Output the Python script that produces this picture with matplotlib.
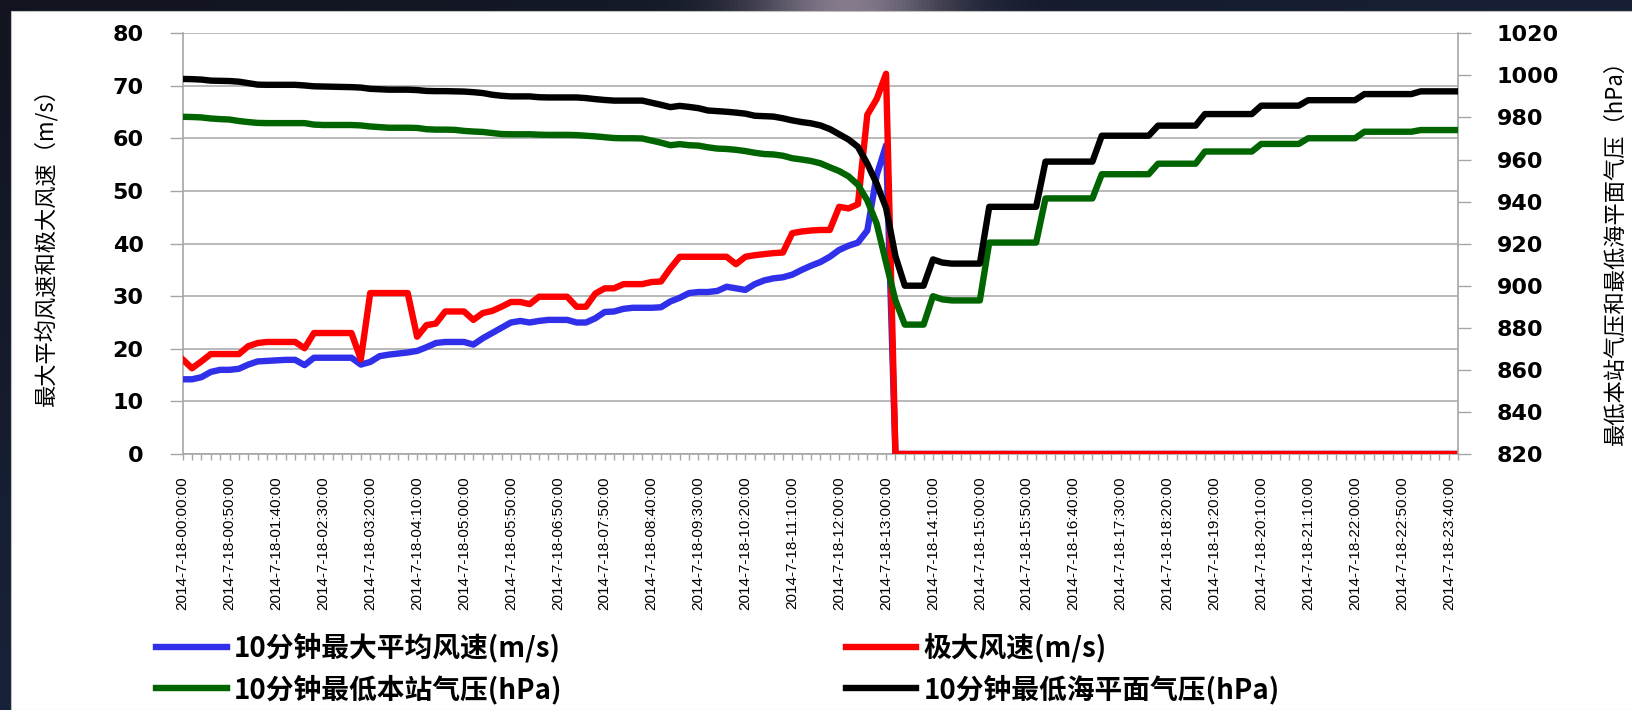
import numpy as np
import matplotlib
matplotlib.use("Agg")
import matplotlib.pyplot as plt
from matplotlib.patches import Rectangle
from matplotlib.font_manager import FontProperties

OUT_PATH = "out.png"
CJK = ["Noto Sans CJK SC", "DejaVu Sans"]

# tick labels shown under every 5th record (10-minute records, some missing)
TIME_LABELS = [
    "2014-7-18-00:00:00", "2014-7-18-00:50:00", "2014-7-18-01:40:00", "2014-7-18-02:30:00",
    "2014-7-18-03:20:00", "2014-7-18-04:10:00", "2014-7-18-05:00:00", "2014-7-18-05:50:00",
    "2014-7-18-06:50:00", "2014-7-18-07:50:00", "2014-7-18-08:40:00", "2014-7-18-09:30:00",
    "2014-7-18-10:20:00", "2014-7-18-11:10:00", "2014-7-18-12:00:00", "2014-7-18-13:00:00",
    "2014-7-18-14:10:00", "2014-7-18-15:00:00", "2014-7-18-15:50:00", "2014-7-18-16:40:00",
    "2014-7-18-17:30:00", "2014-7-18-18:20:00", "2014-7-18-19:20:00", "2014-7-18-20:10:00",
    "2014-7-18-21:10:00", "2014-7-18-22:00:00", "2014-7-18-22:50:00", "2014-7-18-23:40:00",
]

WIND_TICKS = [0, 10, 20, 30, 40, 50, 60, 70, 80]
PRESSURE_TICKS = [820, 840, 860, 880, 900, 920, 940, 960, 980, 1000, 1020]

# 10分钟最大平均风速 (m/s)
wind_mean = [
    14.2, 14.2, 14.6, 15.6, 16.0, 16.0, 16.2, 17.0, 17.6, 17.7,
    17.8, 17.9, 17.9, 16.9, 18.3, 18.3, 18.3, 18.3, 18.3, 17.0,
    17.5, 18.6, 18.9, 19.1, 19.3, 19.6, 20.3, 21.1, 21.3, 21.3,
    21.3, 20.8, 22.0, 23.0, 24.0, 25.0, 25.3, 25.0, 25.3, 25.5,
    25.5, 25.5, 25.0, 25.0, 25.8, 27.0, 27.1, 27.6, 27.8, 27.8,
    27.8, 27.9, 29.0, 29.7, 30.6, 30.8, 30.8, 31.0, 31.8, 31.5,
    31.2, 32.3, 33.0, 33.4, 33.6, 34.1, 35.0, 35.8, 36.5, 37.5,
    38.8, 39.6, 40.2, 42.5, 53.0, 58.7, 0.0, 0.0, 0.0, 0.0,
    0.0, 0.0, 0.0, 0.0, 0.0, 0.0, 0.0, 0.0, 0.0, 0.0,
    0.0, 0.0, 0.0, 0.0, 0.0, 0.0, 0.0, 0.0, 0.0, 0.0,
    0.0, 0.0, 0.0, 0.0, 0.0, 0.0, 0.0, 0.0, 0.0, 0.0,
    0.0, 0.0, 0.0, 0.0, 0.0, 0.0, 0.0, 0.0, 0.0, 0.0,
    0.0, 0.0, 0.0, 0.0, 0.0, 0.0, 0.0, 0.0, 0.0, 0.0,
    0.0, 0.0, 0.0, 0.0, 0.0, 0.0, 0.0,
]

# 极大风速 (m/s)
wind_gust = [
    18.0, 16.3, 17.6, 19.0, 19.0, 19.0, 19.0, 20.5, 21.1, 21.3,
    21.3, 21.3, 21.3, 20.1, 23.0, 23.0, 23.0, 23.0, 23.0, 18.0,
    30.6, 30.6, 30.6, 30.6, 30.6, 22.3, 24.5, 24.8, 27.1, 27.1,
    27.1, 25.5, 26.8, 27.2, 28.0, 28.9, 28.9, 28.5, 29.9, 29.9,
    29.9, 29.9, 28.0, 28.0, 30.5, 31.5, 31.5, 32.3, 32.3, 32.3,
    32.7, 32.8, 35.3, 37.5, 37.5, 37.5, 37.5, 37.5, 37.5, 36.1,
    37.5, 37.8, 38.0, 38.2, 38.3, 42.0, 42.3, 42.5, 42.6, 42.6,
    47.0, 46.7, 47.5, 64.5, 67.5, 72.3, 0.0, 0.0, 0.0, 0.0,
    0.0, 0.0, 0.0, 0.0, 0.0, 0.0, 0.0, 0.0, 0.0, 0.0,
    0.0, 0.0, 0.0, 0.0, 0.0, 0.0, 0.0, 0.0, 0.0, 0.0,
    0.0, 0.0, 0.0, 0.0, 0.0, 0.0, 0.0, 0.0, 0.0, 0.0,
    0.0, 0.0, 0.0, 0.0, 0.0, 0.0, 0.0, 0.0, 0.0, 0.0,
    0.0, 0.0, 0.0, 0.0, 0.0, 0.0, 0.0, 0.0, 0.0, 0.0,
    0.0, 0.0, 0.0, 0.0, 0.0, 0.0, 0.0,
]

# 10分钟最低本站气压 (hPa)
pres_station = [
    980.3, 980.2, 980.0, 979.5, 979.2, 979.0, 978.3, 977.8, 977.4, 977.3,
    977.3, 977.3, 977.3, 977.3, 976.6, 976.4, 976.4, 976.4, 976.4, 976.2,
    975.7, 975.4, 975.1, 975.1, 975.1, 975.0, 974.4, 974.2, 974.2, 974.1,
    973.6, 973.3, 973.1, 972.6, 972.1, 972.0, 972.0, 972.0, 971.8, 971.7,
    971.7, 971.7, 971.6, 971.3, 971.0, 970.6, 970.2, 970.1, 970.1, 970.0,
    969.0, 968.0, 966.8, 967.3, 966.8, 966.6, 965.8, 965.2, 965.0, 964.6,
    964.0, 963.2, 962.6, 962.4, 961.8, 960.6, 960.0, 959.3, 958.2, 956.3,
    954.5, 952.0, 948.0, 940.5, 929.5, 911.0, 893.0, 881.5, 881.5, 881.5,
    895.0, 893.5, 893.0, 893.0, 893.0, 893.0, 920.5, 920.5, 920.5, 920.5,
    920.5, 920.5, 941.5, 941.5, 941.5, 941.5, 941.5, 941.5, 953.0, 953.0,
    953.0, 953.0, 953.0, 953.0, 958.0, 958.0, 958.0, 958.0, 958.0, 963.8,
    963.8, 963.8, 963.8, 963.8, 963.8, 967.4, 967.4, 967.4, 967.4, 967.4,
    970.1, 970.1, 970.1, 970.1, 970.1, 970.1, 973.2, 973.2, 973.2, 973.2,
    973.2, 973.2, 974.0, 974.0, 974.0, 974.0, 974.0,
]

# 10分钟最低海平面气压 (hPa)
pres_sea = [
    998.3, 998.2, 998.0, 997.5, 997.4, 997.3, 997.0, 996.3, 995.6, 995.5,
    995.5, 995.5, 995.5, 995.2, 994.8, 994.7, 994.6, 994.5, 994.4, 994.2,
    993.6, 993.4, 993.2, 993.2, 993.2, 993.0, 992.6, 992.5, 992.5, 992.4,
    992.3, 992.0, 991.6, 990.8, 990.3, 990.0, 990.0, 990.0, 989.6, 989.5,
    989.5, 989.5, 989.5, 989.2, 988.7, 988.3, 988.0, 988.0, 988.0, 988.0,
    987.0, 986.0, 984.9, 985.5, 985.0, 984.4, 983.3, 983.0, 982.7, 982.3,
    981.8, 980.8, 980.6, 980.4, 979.6, 978.6, 977.8, 977.2, 976.2, 974.5,
    972.0, 969.5, 966.0, 958.0, 948.5, 937.0, 914.0, 900.0, 900.0, 900.0,
    912.5, 911.0, 910.5, 910.5, 910.5, 910.5, 937.5, 937.5, 937.5, 937.5,
    937.5, 937.5, 959.0, 959.0, 959.0, 959.0, 959.0, 959.0, 971.3, 971.3,
    971.3, 971.3, 971.3, 971.3, 976.1, 976.1, 976.1, 976.1, 976.1, 981.6,
    981.6, 981.6, 981.6, 981.6, 981.6, 985.6, 985.6, 985.6, 985.6, 985.6,
    988.2, 988.2, 988.2, 988.2, 988.2, 988.2, 991.1, 991.1, 991.1, 991.1,
    991.1, 991.1, 992.4, 992.4, 992.4, 992.4, 992.4,
]

GRID_GRAY = "#a6a6a6"
LINE_W = 4.6


def draw_backdrop(fig):
    # dark slide background with a white content panel on top
    bg = fig.add_axes([0, 0, 1, 1], zorder=-10)
    bg.set_axis_off()
    xs = np.linspace(0, 1, 400)[None, :, None]
    ys = np.linspace(0, 1, 180)[:, None, None]
    dark = np.array([0.07, 0.08, 0.12])
    navy = np.array([0.11, 0.17, 0.30])
    glow = np.array([0.52, 0.48, 0.55])
    img = dark + (navy - dark) * np.clip(0.6 * ys + 0.5 * xs, 0, 1)
    spot = np.exp(-((xs - 0.52) / 0.06) ** 2)
    img = img + (glow - img) * spot
    bg.imshow(np.clip(img, 0, 1), extent=(0, 1, 0, 1), aspect="auto")
    bg.set_xlim(0, 1)
    bg.set_ylim(0, 1)
    bg.add_patch(Rectangle((11 / 1632, 0), 1, (710 - 11) / 710,
                           transform=bg.transAxes, facecolor="white",
                           edgecolor="#c0c0c0", lw=0.8))


def main():
    fig = plt.figure(figsize=(16.32, 7.10), dpi=100)
    draw_backdrop(fig)

    ax = fig.add_axes([0.1119, 0.3606, 0.7816, 0.5925])
    ax2 = ax.twinx()
    x = np.arange(len(wind_mean))

    l_mean, = ax.plot(x, wind_mean, color="#3030ea", lw=LINE_W,
                      solid_joinstyle="round", zorder=3)
    l_gust, = ax.plot(x, wind_gust, color="#ff0000", lw=LINE_W,
                      solid_joinstyle="round", zorder=4)
    l_stat, = ax2.plot(x, pres_station, color="#006400", lw=LINE_W,
                       solid_joinstyle="round", zorder=3)
    l_sea, = ax2.plot(x, pres_sea, color="#000000", lw=LINE_W,
                      solid_joinstyle="round", zorder=4)

    # --- left axis: wind ---
    ax.set_xlim(0, len(x) - 1)
    ax.set_ylim(WIND_TICKS[0], WIND_TICKS[-1])
    ax.set_yticks(WIND_TICKS, labels=[str(v) for v in WIND_TICKS],
                  fontsize=16, fontweight="bold", family="DejaVu Sans")
    ax.yaxis.grid(True, color=GRID_GRAY, lw=1.1)
    ax.set_axisbelow(True)
    ax.tick_params(axis="y", direction="out", length=9.6, width=1,
                   color=GRID_GRAY, pad=18.5)

    ax.set_xticks(range(0, len(x), 5), labels=TIME_LABELS, rotation=90,
                  fontsize=11, family=["Liberation Sans", "DejaVu Sans"])
    ax.set_xticks(x, minor=True)
    ax.tick_params(axis="x", which="both", direction="out", length=4,
                   width=1, color=GRID_GRAY, pad=12)

    for side in ("top", "right"):
        ax.spines[side].set_visible(False)
    for side in ("left", "bottom"):
        ax.spines[side].set_color(GRID_GRAY)
        ax.spines[side].set_linewidth(1.2)

    ax.set_ylabel("最大平均风速和极大风速（m/s）", family=CJK, fontsize=16)
    ax.yaxis.set_label_coords(-0.098, 0.505)

    # --- right axis: pressure ---
    ax2.set_ylim(PRESSURE_TICKS[0], PRESSURE_TICKS[-1])
    ax2.set_yticks(PRESSURE_TICKS, labels=[str(v) for v in PRESSURE_TICKS],
                   fontsize=16, fontweight="bold", family="DejaVu Sans")
    ax2.tick_params(axis="y", direction="out", length=9.6, width=1,
                    color=GRID_GRAY, pad=18)
    for side in ("top", "left", "bottom"):
        ax2.spines[side].set_visible(False)
    ax2.spines["right"].set_color(GRID_GRAY)
    ax2.spines["right"].set_linewidth(1.2)
    ax2.set_ylabel("最低本站气压和最低海平面气压（hPa）", family=CJK, fontsize=16)
    ax2.yaxis.set_label_coords(1.114, 0.493)

    # --- legend, two rows under the time labels ---
    handles = [l_mean, l_stat, l_gust, l_sea]
    labels = ["10分钟最大平均风速(m/s)", "10分钟最低本站气压(hPa)",
              "极大风速(m/s)", "10分钟最低海平面气压(hPa)"]
    fig.legend(handles, labels, ncol=2, loc="upper left",
               bbox_to_anchor=(156 / 1632, (710 - 633) / 710),
               frameon=False, prop=FontProperties(family=CJK, weight="bold", size=20),
               handlelength=2.55, handletextpad=0.25, columnspacing=10.2,
               labelspacing=0.42, borderpad=0, borderaxespad=0)

    fig.savefig(OUT_PATH, dpi=100)
    plt.close(fig)


if __name__ == "__main__":
    main()
